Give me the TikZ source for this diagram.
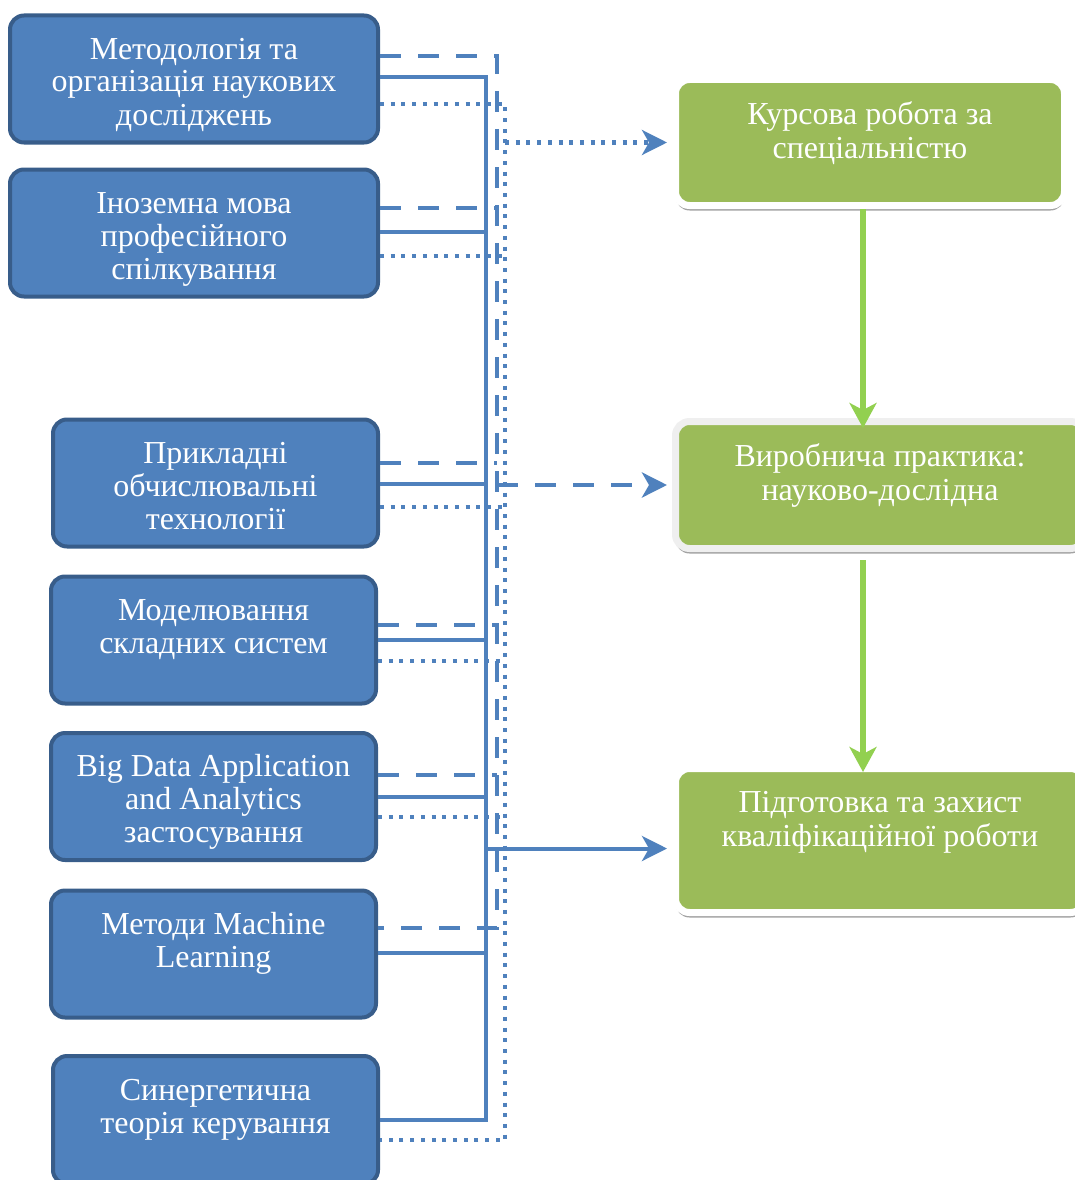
\documentclass[tikz,border=0pt]{standalone}
\usepackage{fontspec}
\setmainfont{Liberation Serif}
\usetikzlibrary{arrows.meta, positioning, shadows}
\definecolor{blueFill}{HTML}{4F81BD}
\definecolor{blueDark}{HTML}{385D8A}
\definecolor{greenFill}{HTML}{9BBB59}
\definecolor{greenArrow}{HTML}{92D050}
\definecolor{frameGray}{HTML}{EFEFEF}
\definecolor{shadowGray}{HTML}{A3A3A3}
\tikzset{
  boxBlue/.style={rectangle, rounded corners=14pt, draw=blueDark, fill=blueFill,
                  line width=4pt, text=white, align=center,
                  font=\fontsize{32}{33}\selectfont, inner sep=0pt,
                  text height=92pt, text depth=0pt, minimum height=127pt},
  boxGreen/.style={rectangle, rounded corners=14pt, draw=white, fill=greenFill,
                   line width=7pt, text=white, align=center,
                   font=\fontsize{32}{34}\selectfont, inner sep=0pt,
                   drop shadow={shadow xshift=0pt, shadow yshift=-5pt,
                                fill=shadowGray, opacity=1}},
  lineS/.style={blueFill, line width=4pt},
  lineD/.style={blueFill, line width=4.5pt, dash pattern=on 21pt off 17pt},
  lineT/.style={blueFill, line width=4pt, dash pattern=on 4pt off 6.7pt},
  arrowS/.style={lineS, -{Stealth[length=25pt, width=25pt, inset=7pt]}, shorten >=5pt},
  arrowD/.style={lineD, -{Stealth[length=25pt, width=25pt, inset=7pt]}, shorten >=5pt},
  arrowT/.style={lineT, -{Stealth[length=25pt, width=25pt, inset=7pt]}, shorten >=5pt},
  arrowG/.style={greenArrow, line width=6pt, -{Stealth[length=25pt, width=27pt, inset=7pt]}},
}
\begin{document}
\begin{tikzpicture}[x=1pt, y=-1pt]
  \useasboundingbox (0,0) rectangle (1074,1180);
  % subjects
  \node[boxBlue, minimum width=368pt] (meth) at (194,79)
    {Методологія та\\організація наукових\\досліджень};
  \node[boxBlue, minimum width=368pt] (lang) at (194,233)
    {Іноземна мова\\професійного\\спілкування};
  \node[boxBlue, minimum width=325pt] (comp) at (215.5,483)
    {Прикладні\\обчислювальні\\технології};
  \node[boxBlue, minimum width=325pt] (model) at (213.5,640)
    {Моделювання\\складних систем\\\mbox{}};
  \node[boxBlue, minimum width=325pt] (bigd) at (213.5,796.5)
    {Big Data Application\\and Analytics\\застосування};
  \node[boxBlue, minimum width=325pt] (ml) at (213.5,954)
    {Методи Machine\\Learning\\\mbox{}};
  \node[boxBlue, minimum width=325pt, minimum height=128pt] (syn) at (215.5,1120)
    {Синергетична\\теорія керування\\\mbox{}};
  % practice
  \node[boxGreen, minimum width=389pt, minimum height=126pt] (kurs) at (870,142.5)
    {Курсова робота за\\спеціальністю\\[-9pt]\mbox{}};
  \node[boxGreen, draw=frameGray, minimum width=409pt, minimum height=127pt] (prak) at (880,485)
    {Виробнича практика:\\науково-дослідна\\[-9pt]\mbox{}};
  \node[boxGreen, minimum width=409pt, minimum height=144pt] (kval) at (880,840.5)
    {Підготовка та захист\\кваліфікаційної роботи\\[9pt]\mbox{}};
  % buses
  \coordinate (busS) at (486,0);
  \coordinate (busD) at (497,0);
  \coordinate (busT) at (505,0);
  \draw[lineS] ([yshift=2pt]meth.east) -| (syn.east -| busS) -- (syn.east);
  \draw[lineD] ([yshift=23pt]meth.east) -| ([yshift=26pt]ml.east -| busD)
    -- ([yshift=26pt]ml.east);
  \draw[lineT] ([yshift=-25pt]meth.east) -| ([yshift=-20pt]syn.east -| busT)
    -- ([yshift=-20pt]syn.east);
  \draw[lineS] ([yshift=1pt]lang.east) -- ([yshift=1pt]lang.east -| busS);
  \draw[lineD] ([yshift=25pt]lang.east) -- ([yshift=25pt]lang.east -| busD);
  \draw[lineT] ([yshift=-23pt]lang.east) -- ([yshift=-23pt]lang.east -| busT);
  \draw[lineS] ([yshift=-1pt]comp.east) -- ([yshift=-1pt]comp.east -| busS);
  \draw[lineD] ([yshift=20pt]comp.east) -- ([yshift=20pt]comp.east -| busD);
  \draw[lineT] ([yshift=-24pt]comp.east) -- ([yshift=-24pt]comp.east -| busT);
  \draw[lineS] (model.east) -- (model.east -| busS);
  \draw[lineD] ([yshift=15pt]model.east) -- ([yshift=15pt]model.east -| busD);
  \draw[lineT] ([yshift=-21pt]model.east) -- ([yshift=-21pt]model.east -| busT);
  \draw[lineS] ([yshift=-0.5pt]bigd.east) -- ([yshift=-0.5pt]bigd.east -| busS);
  \draw[lineD] ([yshift=21.5pt]bigd.east) -- ([yshift=21.5pt]bigd.east -| busD);
  \draw[lineT] ([yshift=-20.5pt]bigd.east) -- ([yshift=-20.5pt]bigd.east -| busT);
  \draw[lineS] ([yshift=1pt]ml.east) -- ([yshift=1pt]ml.east -| busS);
  % to practice
  \draw[arrowT] (kurs.west -| busT) -- (kurs.west);
  \draw[arrowD] (prak.west -| busD) -- (prak.west);
  \draw[arrowS] ([yshift=-8pt]kval.west -| busS) -- ([yshift=-8pt]kval.west);
  \draw[arrowG, shorten >=-10pt] ([xshift=-7pt]kurs.south)
    -- ([xshift=-7pt]kurs.south |- prak.north);
  \draw[arrowG, shorten <=8pt, shorten >=-7pt] ([xshift=-7pt]kurs.south |- prak.south)
    -- ([xshift=-7pt]kurs.south |- kval.north);
\end{tikzpicture}
\end{document}
